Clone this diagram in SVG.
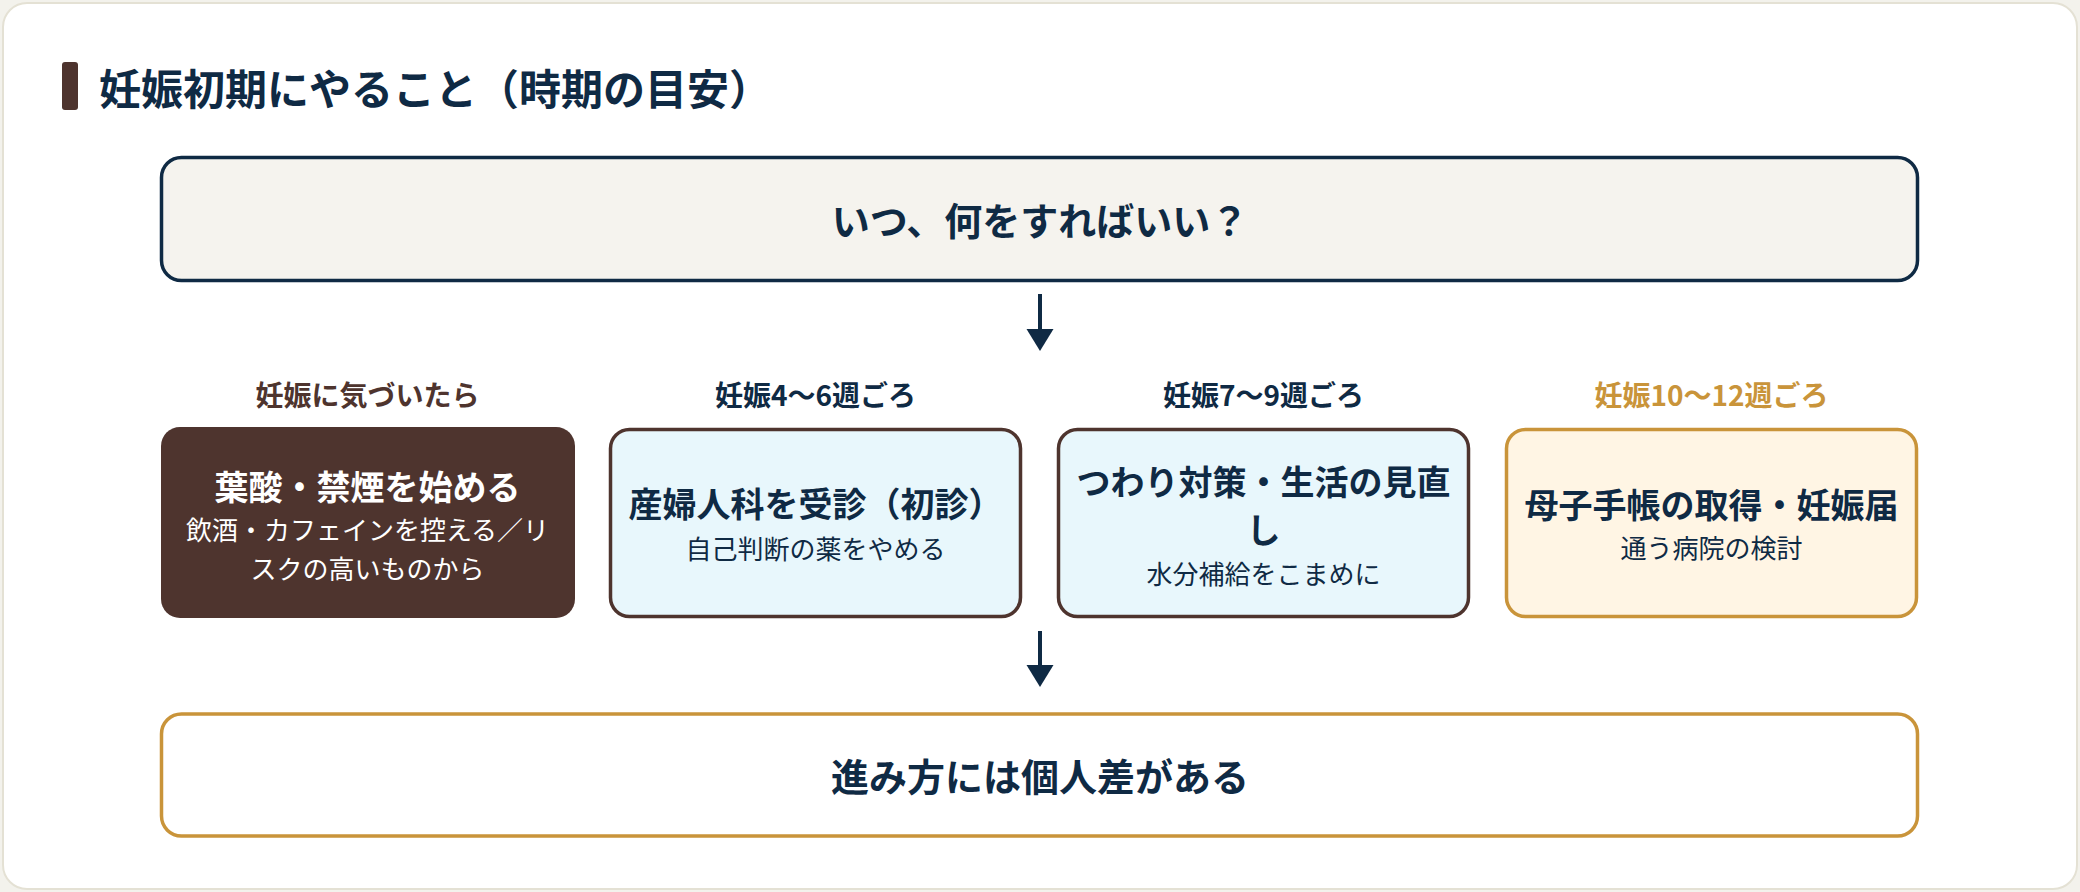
<svg xmlns="http://www.w3.org/2000/svg" width="2080" height="892" viewBox="0 0 2080 892">
<style>
text{font-family:"Noto Sans CJK JP","Noto Sans",sans-serif;text-anchor:middle}
.title{font-size:42px;font-weight:700;fill:#0f2a44;text-anchor:start}
.big{font-size:38px;font-weight:700;fill:#0f2a44}
.lbl{font-size:28px;font-weight:700}
.main{font-size:34px;font-weight:700;fill:#0f2a44}
.sub{font-size:26px;font-weight:400;fill:#0f2a44}
.w{fill:#ffffff}
.conn{stroke:#0f2a44;stroke-width:4;fill:none}
.head{fill:#0f2a44}
</style>
<rect x="0" y="0" width="2080" height="892" fill="#f3f2ec"/>
<rect x="3" y="3" width="2074" height="886" rx="24" fill="#ffffff" stroke="#e4e1d4" stroke-width="2"/>
<g id="title">
<rect x="62" y="62" width="16" height="48" rx="3" fill="#4e342e"/>
<text class="title" x="99" y="105">妊娠初期にやること（時期の目安）</text>
</g>
<g id="top">
<rect x="161.5" y="157.5" width="1756" height="123" rx="20" fill="#f5f3ee" stroke="#0f2a44" stroke-width="3.5"/>
<text class="big" x="1040" y="235">いつ、何をすればいい？</text>
</g>
<g id="phase1">
<text class="lbl" x="367.5" y="406" fill="#4e342e">妊娠に気づいたら</text>
<rect x="161" y="427" width="414" height="191" rx="19" fill="#4e342e"/>
<text class="main w" x="367.5" y="500">葉酸・禁煙を始める</text>
<text class="sub w" x="367.5" y="540">飲酒・カフェインを控える／リ</text>
<text class="sub w" x="367.5" y="579">スクの高いものから</text>
</g>
<g id="phase2">
<text class="lbl" x="815.5" y="406" fill="#0f2a44">妊娠4〜6週ごろ</text>
<rect x="610.5" y="429.5" width="410" height="187" rx="19" fill="#e8f7fc" stroke="#4e342e" stroke-width="3.5"/>
<text class="main" x="815.5" y="517">産婦人科を受診（初診）</text>
<text class="sub" x="815.5" y="559">自己判断の薬をやめる</text>
</g>
<g id="phase3">
<text class="lbl" x="1263.5" y="406" fill="#0f2a44">妊娠7〜9週ごろ</text>
<rect x="1058.5" y="429.5" width="410" height="187" rx="19" fill="#e8f7fc" stroke="#4e342e" stroke-width="3.5"/>
<text class="main" x="1263.5" y="495">つわり対策・生活の見直</text>
<text class="main" x="1263.5" y="543">し</text>
<text class="sub" x="1263.5" y="584">水分補給をこまめに</text>
</g>
<g id="phase4">
<text class="lbl" x="1711.5" y="406" fill="#c9943a">妊娠10〜12週ごろ</text>
<rect x="1506.5" y="429.5" width="410" height="187" rx="19" fill="#fff5e4" stroke="#c9943a" stroke-width="3.5"/>
<text class="main" x="1711.5" y="518">母子手帳の取得・妊娠届</text>
<text class="sub" x="1711.5" y="558">通う病院の検討</text>
</g>
<g id="bottom">
<rect x="161.5" y="714" width="1756" height="122" rx="20" fill="#ffffff" stroke="#c9943a" stroke-width="3.5"/>
<text class="big" x="1040" y="791">進み方には個人差がある</text>
</g>
<g id="connectors">
<line class="conn" x1="1040" y1="294" x2="1040" y2="332"/>
<path class="head" d="M1026.5,329 L1053.5,329 L1040,351 Z"/>
<line class="conn" x1="1040" y1="631" x2="1040" y2="667"/>
<path class="head" d="M1026.5,665 L1053.5,665 L1040,687 Z"/>
</g>
</svg>
